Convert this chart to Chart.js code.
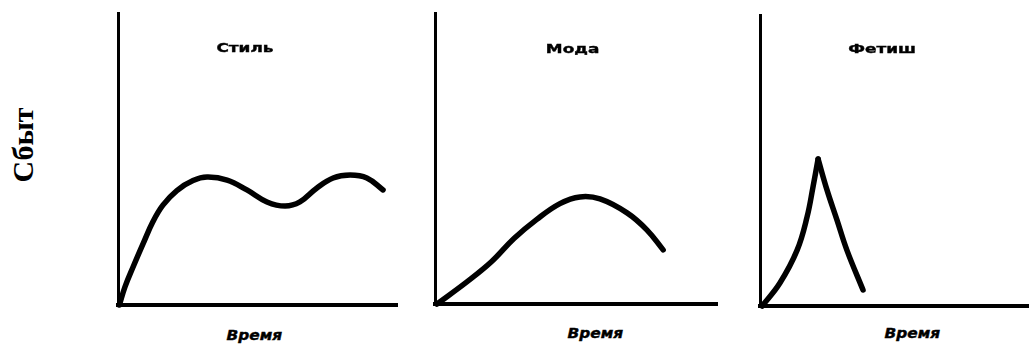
<!DOCTYPE html>
<html lang="ru">
<head>
<meta charset="utf-8">
<title>Стиль, мода, фетиш</title>
<script src="https://cdn.jsdelivr.net/npm/chart.js@4.4.1/dist/chart.umd.min.js"></script>
<style>
    html, body {
        margin: 0;
        padding: 0;
        background: #ffffff;
    }
    #stage {
        position: relative;
        width: 1029px;
        height: 346px;
        overflow: hidden;
        background: #ffffff;
    }
    #stage canvas {
        position: absolute;
    }
    .label {
        position: absolute;
        white-space: nowrap;
        color: #000;
        transform-origin: center center;
    }
    .panel-title {
        font-family: 'DejaVu Sans', sans-serif;
        font-weight: bold;
        font-size: 13px;
        -webkit-text-stroke: 0.4px #000;
    }
    .time-label {
        font-family: 'DejaVu Sans', sans-serif;
        font-weight: bold;
        font-style: italic;
        font-size: 14px;
        -webkit-text-stroke: 0.4px #000;
    }
    .sales-label {
        font-family: 'Liberation Serif', serif;
        font-weight: bold;
        font-size: 30px;
    }
</style>
</head>
<body>
<div id="stage">
    <canvas id="styleChart" width="295" height="308" style="left:110px; top:5px;"></canvas>
    <canvas id="fashionChart" width="298" height="307" style="left:427px; top:5px;"></canvas>
    <canvas id="fetishChart" width="285" height="307" style="left:752px; top:7px;"></canvas>

    <div class="label panel-title" data-cx="245" data-cy="47" data-sx="1.3">Стиль</div>
    <div class="label panel-title" data-cx="572" data-cy="48" data-sx="1.3">Мода</div>
    <div class="label panel-title" data-cx="882" data-cy="48" data-sx="1.3">Фетиш</div>

    <div class="label time-label" data-cx="254" data-cy="335" data-sx="1.1">Время</div>
    <div class="label time-label" data-cx="595" data-cy="333" data-sx="1.1">Время</div>
    <div class="label time-label" data-cx="912" data-cy="333" data-sx="1.1">Время</div>

    <div class="label sales-label" data-cx="22" data-cy="145" data-rot="-90">Сбыт</div>
</div>

<script>
// Time runs 0..100 along each panel, sales 0..100 up each panel

// Стиль: rises fast, then waves
const styleTime  = [0.5, 2.5, 5.4, 9.0, 12.5, 16.1, 21.1, 26.9, 31.9, 39.1, 46.2, 53.4, 59.9, 65.2, 71.3, 77.1, 83.2, 89.2, 95.0];
const styleSales = [0.0, 6.2, 13.0, 21.0, 28.5, 34.2, 39.2, 42.6, 43.8, 42.8, 39.4, 35.3, 33.9, 35.3, 40.1, 43.5, 44.5, 43.5, 39.4];

// Мода: slow rise, one hump, decline
const fashionTime  = [0.7, 11.3, 20.0, 28.0, 36.0, 44.3, 51.4, 58.5, 68.1, 75.2, 80.9];
const fashionSales = [0.0, 7.6, 14.5, 22.5, 29.0, 34.5, 36.8, 36.1, 31.3, 25.4, 18.6];

// Фетиш: sharp peak, split in two so the top stays pointed
const fetishRiseTime  = [0.8, 7.4, 13.8, 17.5, 19.7, 21.6];
const fetishRiseSales = [0.0, 7.9, 19.2, 30.6, 40.9, 50.5];
const fetishFallTime  = [21.6, 24.9, 28.6, 32.3, 38.3];
const fetishFallSales = [50.5, 39.9, 29.6, 19.2, 5.5];

const INK = '#000000';
const PAD = 8;

function toPoints(xs, ys) {
    return xs.map((x, i) => ({ x: x, y: ys[i] }));
}

function curve(xs, ys) {
    return {
        data: toPoints(xs, ys),
        borderColor: INK,
        borderWidth: 5.5,
        borderCapStyle: 'round',
        borderJoinStyle: 'round',
        pointRadius: 0,
        fill: false,
        tension: 0.4,
        clip: false
    };
}

function axis(borderWidth) {
    return {
        type: 'linear',
        min: 0,
        max: 100,
        ticks: { display: false },
        grid: { display: false, drawTicks: false },
        border: { display: true, color: INK, width: borderWidth },
        title: { display: false }
    };
}

function makePanel(canvasId, datasets) {
    const ctx = document.getElementById(canvasId);
    return new Chart(ctx, {
        type: 'line',
        data: { datasets: datasets },
        options: {
            responsive: false,
            animation: false,
            events: [],
            layout: { padding: PAD },
            plugins: {
                legend: { display: false },
                tooltip: { enabled: false },
                title: { display: false }
            },
            scales: {
                x: axis(4),
                y: axis(3)
            }
        }
    });
}

makePanel('styleChart', [curve(styleTime, styleSales)]);
makePanel('fashionChart', [curve(fashionTime, fashionSales)]);
makePanel('fetishChart', [
    curve(fetishRiseTime, fetishRiseSales),
    curve(fetishFallTime, fetishFallSales)
]);

// place the text labels by their centres
document.querySelectorAll('.label').forEach(el => {
    const cx = parseFloat(el.dataset.cx);
    const cy = parseFloat(el.dataset.cy);
    const sx = parseFloat(el.dataset.sx || '1');
    const rot = parseFloat(el.dataset.rot || '0');
    const w = el.offsetWidth;
    const h = el.offsetHeight;
    el.style.left = (cx - w / 2) + 'px';
    el.style.top = (cy - h / 2) + 'px';
    el.style.transform = 'rotate(' + rot + 'deg) scaleX(' + sx + ')';
});
</script>
</body>
</html>
